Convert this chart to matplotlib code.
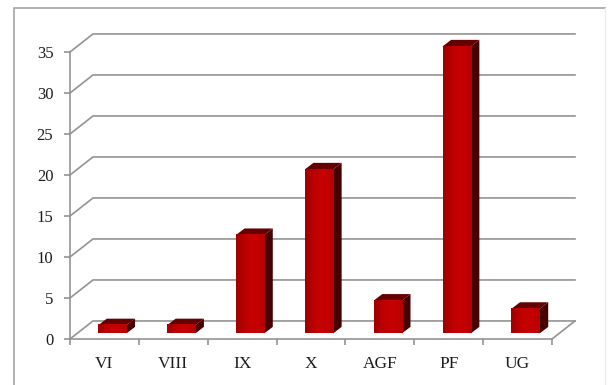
import matplotlib
matplotlib.use('Agg')
import matplotlib.pyplot as plt
from matplotlib.lines import Line2D
from matplotlib.patches import Polygon
import numpy as np

categories = ['VI', 'VIII', 'IX', 'X', 'AGF', 'PF', 'UG']
values = [1, 1, 12, 20, 4, 35, 3]
y_ticks = [0, 5, 10, 15, 20, 25, 30, 35]

plt.rcParams['font.family'] = ['Liberation Serif', 'DejaVu Serif']

GRAY = '#939393'
TEXT = '#1c1c1c'

# profundidad del piso y de las barras, en unidades de categoria / valor
wall_dx = 0.334
wall_dy = 2.2
bar_w = 0.41
bar_dx = 0.125
bar_dy = 0.8
bar_left = 0.41
bar_base = 0.68

W, H = 608, 385
fig = plt.figure(figsize=(W / 100, H / 100), dpi=100, facecolor='white')
ax = fig.add_axes([70 / W, (H - 339) / H, 482 / W, 287 / H])
ax.set_xlim(0, 7)
ax.set_ylim(0, 35)
ax.patch.set_visible(False)

# marco exterior: izquierda y arriba marcados, derecha casi invisible
left, right, top_y = 13.5 / W, 604.5 / W, (H - 7.5) / H
fig.add_artist(Line2D([left, left, right], [0, top_y, top_y], color='#9c9c9c', lw=1.1,
                      solid_joinstyle='miter'))
fig.add_artist(Line2D([right, right], [0, top_y], color='#ececec', lw=1.0))

# lineas de la pared y del piso
for t in y_ticks:
    ax.plot([0, wall_dx, 7 + wall_dx], [t, t + wall_dy, t + wall_dy], color=GRAY, lw=1.2,
            clip_on=False, zorder=1, solid_joinstyle='miter')
ax.plot([7, 7 + wall_dx], [0, wall_dy], color=GRAY, lw=1.2, clip_on=False, zorder=1)

# degradado horizontal de la cara frontal
shade = np.array([0.64, 0.70, 0.75, 0.77, 0.77, 0.76, 0.72])
front = np.zeros((1, shade.size, 3))
front[0, :, 0] = shade

for i, v in enumerate(values):
    x0 = i + bar_left
    x1 = x0 + bar_w
    y0 = bar_base
    y1 = bar_base + v
    side = Polygon([(x1, y0), (x1 + bar_dx, y0 + bar_dy), (x1 + bar_dx, y1 + bar_dy), (x1, y1)],
                   fc='#470000', ec='none', clip_on=False, zorder=3)
    top = Polygon([(x0, y1), (x0 + bar_dx, y1 + bar_dy), (x1 + bar_dx, y1 + bar_dy), (x1, y1)],
                  fc='#640000', ec='none', clip_on=False, zorder=3)
    ax.add_patch(side)
    ax.add_patch(top)
    ax.imshow(front, extent=(x0, x1, y0, y1), aspect='auto', interpolation='bilinear',
              zorder=4, clip_on=False)

ax.set_xlim(0, 7)
ax.set_ylim(0, 35)

for s in ['top', 'right']:
    ax.spines[s].set_visible(False)
for s in ['left', 'bottom']:
    ax.spines[s].set_color(GRAY)
    ax.spines[s].set_linewidth(1.2)

ax.set_yticks(y_ticks)
ax.set_yticklabels([str(t) for t in y_ticks])
ax.set_xticks(range(8))
ax.set_xticklabels([])
ax.set_xticks(np.arange(7) + 0.5, labels=categories, minor=True)
ax.tick_params(axis='both', which='major', color=GRAY, width=1.2, length=4, labelsize=12, labelcolor=TEXT)
ax.tick_params(axis='y', pad=8)
ax.tick_params(axis='x', which='minor', length=0, pad=12, labelsize=12.5, labelcolor=TEXT)

fig.savefig('out.png', dpi=100)
